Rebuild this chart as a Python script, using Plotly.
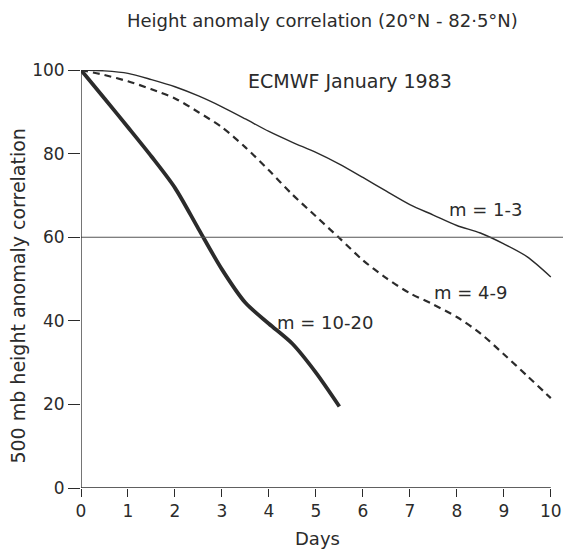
import plotly.graph_objects as go

# ---- data ----
days_13 = [0, 0.5, 1, 1.5, 2, 2.5, 3, 3.5, 4, 4.5, 5, 5.5, 6, 6.5, 7, 7.5, 8, 8.5, 9, 9.5, 10]
corr_13 = [100, 99.8, 99.2, 97.7, 96.0, 93.8, 91.2, 88.3, 85.3, 82.7, 80.3, 77.5, 74.3, 71.0, 67.8, 65.3, 62.8, 61.0, 58.4, 55.3, 50.5]

days_49 = [0, 0.5, 1, 1.5, 2, 2.5, 3, 3.5, 4, 4.5, 5, 5.5, 6, 6.5, 7, 7.5, 8, 8.5, 9, 9.5, 10]
corr_49 = [100, 98.8, 97.3, 95.4, 93.2, 89.9, 86.3, 81.5, 76.0, 70.2, 65.0, 59.8, 54.5, 50.2, 46.6, 43.9, 40.9, 37.0, 32.0, 26.8, 21.5]

days_1020 = [0, 0.5, 1, 1.5, 2, 2.5, 3, 3.5, 4, 4.5, 5, 5.5]
corr_1020 = [100, 93.2, 86.3, 79.3, 71.8, 62.0, 52.3, 44.3, 39.3, 34.5, 27.6, 19.5]

x_ticks = [0, 1, 2, 3, 4, 5, 6, 7, 8, 9, 10]
y_ticks = [0, 20, 40, 60, 80, 100]
ref_level = 60

labels = ["m = 1-3", "m = 4-9", "m = 10-20"]
label_days = [8.62, 8.3, 5.2]
label_vals = [66.6, 46.8, 39.6]

title_text = "Height anomaly correlation (20°N - 82·5°N)"
subtitle_text = "ECMWF January 1983"
x_title = "Days"
y_title = "500 mb height anomaly correlation"

FONT = "'DejaVu Sans', 'Open Sans', sans-serif"
INK = "#2b2b2b"

fig = go.Figure()

fig.add_trace(go.Scatter(x=days_13, y=corr_13, mode="lines",
                         line=dict(color=INK, width=1.4, shape="spline", smoothing=0.8),
                         cliponaxis=False, showlegend=False, hoverinfo="skip"))
fig.add_trace(go.Scatter(x=days_49, y=corr_49, mode="lines",
                         line=dict(color=INK, width=2.2, dash="7px,5px", shape="spline", smoothing=0.8),
                         cliponaxis=False, showlegend=False, hoverinfo="skip"))
fig.add_trace(go.Scatter(x=days_1020, y=corr_1020, mode="lines",
                         line=dict(color=INK, width=3.8, shape="spline", smoothing=0.8),
                         cliponaxis=False, showlegend=False, hoverinfo="skip"))

# reference line at 60 (extends to right edge)
fig.add_shape(type="line", xref="paper", yref="y", x0=0, x1=1, y0=ref_level, y1=ref_level,
              line=dict(color="#555555", width=1.1))
# axis lines
fig.add_shape(type="line", xref="x", yref="y", x0=0, x1=10, y0=0, y1=0,
              line=dict(color=INK, width=1.3))
fig.add_shape(type="line", xref="x", yref="y", x0=0, x1=0, y0=0, y1=100,
              line=dict(color=INK, width=1.3))

for t, xd, yv in zip(labels, label_days, label_vals):
    fig.add_annotation(x=xd, y=yv, text=t, showarrow=False,
                       font=dict(family=FONT, size=18, color=INK))

fig.add_annotation(x=5.72, y=97.4, text=subtitle_text, showarrow=False,
                   font=dict(family=FONT, size=19, color=INK))
fig.add_annotation(xref="paper", yref="paper", x=0.5, y=1.0, yshift=50, yanchor="middle",
                   text=title_text, showarrow=False,
                   font=dict(family=FONT, size=18, color=INK))
fig.add_annotation(xref="x", yref="paper", x=5.04, y=0, yshift=-50, yanchor="middle",
                   text=x_title, showarrow=False,
                   font=dict(family=FONT, size=18, color=INK))
fig.add_annotation(xref="paper", yref="y", x=-0.131, y=46, xanchor="center", yanchor="middle",
                   text=y_title, textangle=-90,
                   showarrow=False, font=dict(family=FONT, size=19, color=INK))

fig.update_xaxes(range=[0, 10.26], tickvals=x_ticks, ticktext=[str(v) for v in x_ticks],
                 ticks="outside", ticklen=8, tickwidth=1.3, tickcolor=INK,
                 showline=False, showgrid=False, zeroline=False,
                 tickfont=dict(family=FONT, size=17, color=INK))
fig.update_yaxes(range=[0, 100], tickvals=y_ticks, ticktext=[str(v) for v in y_ticks],
                 ticks="outside", ticklen=12, tickwidth=1.3, tickcolor=INK,
                 showline=False, showgrid=False, zeroline=False,
                 tickfont=dict(family=FONT, size=17, color=INK))

fig.update_layout(width=563, height=552, margin=dict(l=81, r=0, t=70, b=64),
                  paper_bgcolor="white", plot_bgcolor="white", hovermode=False)

# remove the default page margin so the figure fills the window exactly
fig.write_html("out.html", config={"displayModeBar": False},
               post_script="document.body.style.margin='0';document.body.style.overflow='hidden';")
